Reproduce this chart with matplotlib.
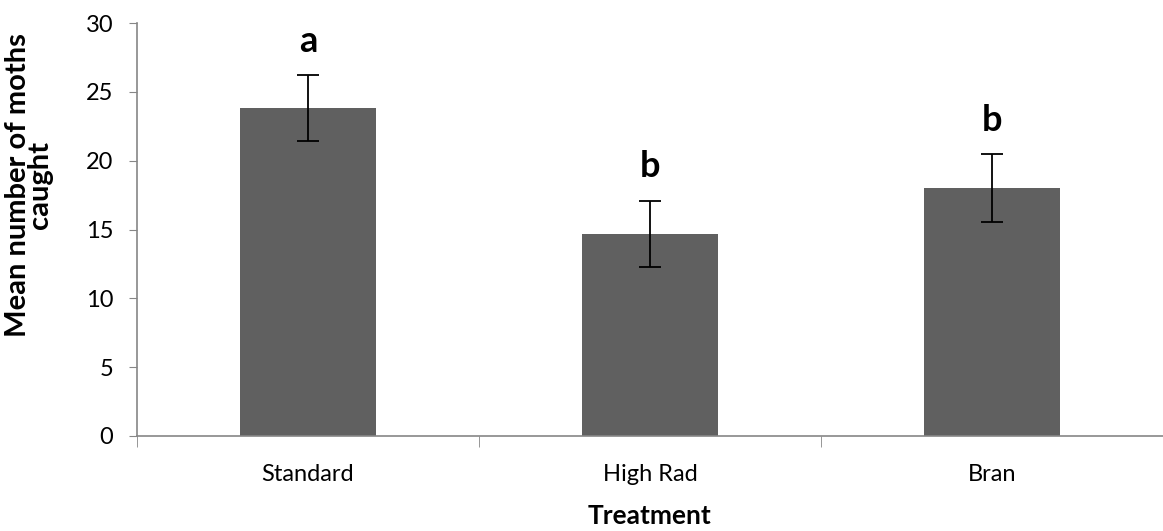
import matplotlib
matplotlib.use("Agg")
import matplotlib.pyplot as plt
import numpy as np

treatments = ["Standard", "High Rad", "Bran"]
mean_moths = [23.8, 14.7, 18.0]
std_err = [2.4, 2.4, 2.45]
letters = ["a", "b", "b"]

plt.rcParams["font.family"] = ["Lato", "DejaVu Sans"]

fig = plt.figure(figsize=(11.63, 5.31), dpi=100)
ax = fig.add_axes([137 / 1163, 1 - 436 / 531, (1163 - 137) / 1163, 413 / 531])

x = np.arange(len(treatments))
ax.bar(x, mean_moths, width=0.4, color="#606060", zorder=2)
ax.errorbar(x, mean_moths, yerr=std_err, fmt="none", ecolor="black",
            elinewidth=1.3, capsize=8, capthick=1.3, zorder=3)

for xi, m, e, lab in zip(x, mean_moths, std_err, letters):
    ax.text(xi, m + e + 1.7, lab, ha="center", va="baseline",
            fontsize=26, fontweight="bold")

ax.set_xlim(-0.5, 2.465)
ax.set_ylim(0, 30)
ax.set_yticks(range(0, 31, 5))
ax.set_xticks(x)
ax.set_xticklabels(treatments, fontsize=17)
ax.set_xticks([-0.5, 0.5, 1.5, 2.5], minor=True)
ax.tick_params(axis="x", which="major", length=0, pad=20)
ax.tick_params(axis="x", which="minor", length=8, color="#868686")
ax.tick_params(axis="y", length=6, color="#868686", labelsize=17, pad=11)

for side in ["top", "right"]:
    ax.spines[side].set_visible(False)
for side in ["left", "bottom"]:
    ax.spines[side].set_color("#868686")
    ax.spines[side].set_linewidth(1.2)

ax.set_ylabel("Mean number of moths\ncaught", fontsize=21, fontweight="bold",
              linespacing=0.8)
ax.yaxis.set_label_coords(-0.082, 0.608)
ax.set_xlabel("Treatment", fontsize=19, fontweight="bold", labelpad=14)

fig.savefig("out.png", dpi=100)
